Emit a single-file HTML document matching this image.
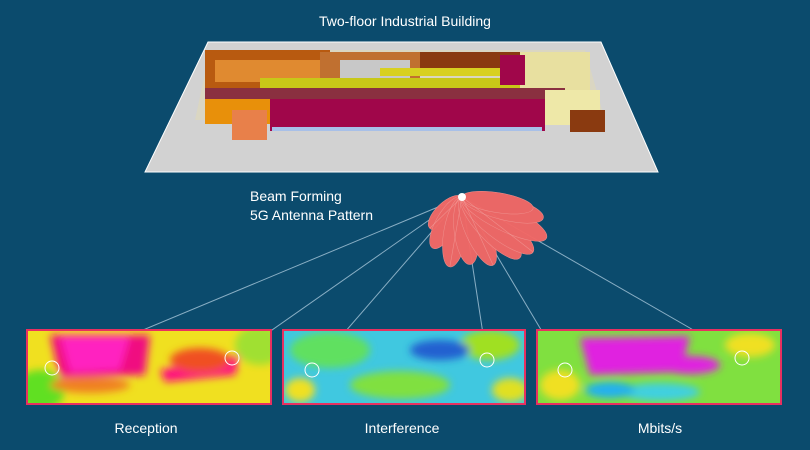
<!DOCTYPE html>
<html><head><meta charset="utf-8"><style>
html,body{margin:0;padding:0;background:#0b4b6d;width:810px;height:450px;overflow:hidden}
.t{font-family:"Liberation Sans",sans-serif;fill:#fff}
</style></head><body>
<svg width="810" height="450" viewBox="0 0 810 450" xmlns="http://www.w3.org/2000/svg">
<defs>
<filter id="b" x="-20%" y="-20%" width="140%" height="140%"><feGaussianBlur stdDeviation="4"/></filter>
<clipPath id="c1"><rect x="28" y="331" width="242" height="72"/></clipPath>
<clipPath id="c2"><rect x="284" y="331" width="240" height="72"/></clipPath>
<clipPath id="c3"><rect x="538" y="331" width="242" height="72"/></clipPath>
</defs>
<rect width="810" height="450" fill="#0b4b6d"/>
<text class="t" x="405" y="26" font-size="14" text-anchor="middle">Two-floor Industrial Building</text>
<polygon points="208,42 601,42 658,172 145,172" fill="#d2d2d2" stroke="#fff" stroke-width="1"/>
<polygon points="210,50 585,50 605,120 195,120" fill="#e0d8b8" opacity=".6"/>
<rect x="205" y="50" width="125" height="38" fill="#b85a10"/>
<rect x="215" y="60" width="105" height="22" fill="#e08a30"/>
<rect x="320" y="52" width="100" height="36" fill="#c07030"/>
<rect x="340" y="60" width="70" height="20" fill="#c8c8c8"/>
<rect x="420" y="52" width="100" height="20" fill="#8a3a10"/>
<rect x="260" y="78" width="280" height="10" fill="#c8c818"/>
<rect x="380" y="68" width="150" height="8" fill="#d8d020"/>
<rect x="520" y="52" width="70" height="40" fill="#e8e0a0"/>
<rect x="500" y="55" width="25" height="30" fill="#a0064a"/>
<rect x="205" y="88" width="360" height="11" fill="#8a3040"/>
<rect x="205" y="99" width="65" height="25" fill="#e8900a"/>
<rect x="232" y="110" width="35" height="30" fill="#e8804a"/>
<rect x="270" y="99" width="275" height="32" fill="#a0064a"/>
<rect x="272" y="127" width="270" height="4" fill="#a8c0e8"/>
<rect x="545" y="90" width="55" height="35" fill="#eee8a8"/>
<rect x="570" y="110" width="35" height="22" fill="#8a3a10"/>
<g stroke="#9fc0d4" stroke-width="1" opacity=".85">
<line x1="462" y1="197" x2="52" y2="368"/>
<line x1="462" y1="197" x2="232" y2="358"/>
<line x1="462" y1="197" x2="312" y2="370"/>
<line x1="462" y1="197" x2="487" y2="360"/>
<line x1="462" y1="197" x2="565" y2="370"/>
<line x1="462" y1="197" x2="742" y2="358"/>
</g>
<g fill="#f26866" stroke="#f7938f" stroke-width=".5" opacity=".97">
<ellipse cx="462" cy="219.5" rx="10" ry="22.5" transform="rotate(46 462 197)"/>
<ellipse cx="462" cy="226.5" rx="11" ry="29.5" transform="rotate(30 462 197)"/>
<ellipse cx="462" cy="232.5" rx="12" ry="35.5" transform="rotate(10 462 197)"/>
<ellipse cx="462" cy="231" rx="12" ry="34" transform="rotate(-7 462 197)"/>
<ellipse cx="462" cy="234.5" rx="12" ry="37.5" transform="rotate(-24.5 462 197)"/>
<ellipse cx="462" cy="239" rx="13" ry="42" transform="rotate(-43.5 462 197)"/>
<ellipse cx="462" cy="242" rx="13" ry="45" transform="rotate(-52 462 197)"/>
<ellipse cx="462" cy="244" rx="13" ry="47" transform="rotate(-64 462 197)"/>
<ellipse cx="462" cy="239" rx="12" ry="42" transform="rotate(-75.5 462 197)"/>
<ellipse cx="462" cy="233" rx="10" ry="36" transform="rotate(-81 462 197)"/>
</g>
<g stroke="#f3a8a4" stroke-width=".6" opacity=".6">
<line x1="462" y1="197" x2="430" y2="228"/>
<line x1="462" y1="197" x2="450" y2="266"/>
<line x1="462" y1="197" x2="493" y2="265"/>
<line x1="462" y1="197" x2="533" y2="252"/>
</g>
<circle cx="462" cy="197" r="4" fill="#fff"/>
<text class="t" x="250" y="201" font-size="14">Beam Forming</text>
<text class="t" x="250" y="220" font-size="14">5G Antenna Pattern</text>
<rect x="26" y="329" width="246" height="76" fill="#e83060"/>
<g clip-path="url(#c1)">
<rect x="28" y="331" width="242" height="72" fill="#f0e020"/>
<g filter="url(#b)">
<ellipse cx="40" cy="390" rx="25" ry="20" fill="#60e020"/>
<ellipse cx="260" cy="345" rx="25" ry="20" fill="#a0e030"/>
<polygon points="50,335 150,335 145,375 60,378" fill="#f01080"/>
<polygon points="60,336 130,336 120,370 70,372" fill="#ff20c0"/>
<polygon points="160,370 240,355 235,375 165,382" fill="#ff1080"/>
<ellipse cx="200" cy="360" rx="30" ry="12" fill="#f05020"/>
<ellipse cx="90" cy="385" rx="40" ry="8" fill="#f08020"/>
</g>
<g stroke="#fff" fill="none"><circle cx="52" cy="368" r="7"/><circle cx="232" cy="358" r="7"/></g>
</g>
<rect x="282" y="329" width="244" height="76" fill="#e83060"/>
<g clip-path="url(#c2)">
<rect x="284" y="331" width="240" height="72" fill="#40c8e0"/>
<g filter="url(#b)">
<ellipse cx="330" cy="350" rx="40" ry="18" fill="#60e060"/>
<ellipse cx="400" cy="385" rx="50" ry="14" fill="#80e040"/>
<ellipse cx="490" cy="345" rx="30" ry="15" fill="#a0e020"/>
<ellipse cx="440" cy="350" rx="30" ry="10" fill="#2060d0"/>
<ellipse cx="300" cy="390" rx="15" ry="12" fill="#f0e020"/>
<ellipse cx="510" cy="390" rx="18" ry="12" fill="#e0e020"/>
</g>
<g stroke="#fff" fill="none"><circle cx="312" cy="370" r="7"/><circle cx="487" cy="360" r="7"/></g>
</g>
<rect x="536" y="329" width="246" height="76" fill="#e83060"/>
<g clip-path="url(#c3)">
<rect x="538" y="331" width="242" height="72" fill="#80e040"/>
<g filter="url(#b)">
<polygon points="580,338 690,336 680,372 590,375" fill="#e020e0"/>
<ellipse cx="690" cy="365" rx="30" ry="9" fill="#e020e0"/>
<ellipse cx="560" cy="385" rx="20" ry="15" fill="#f0e020"/>
<ellipse cx="660" cy="392" rx="40" ry="9" fill="#40d0e0"/>
<ellipse cx="750" cy="345" rx="25" ry="12" fill="#f0e020"/>
<ellipse cx="610" cy="390" rx="25" ry="8" fill="#20b0f0"/>
</g>
<g stroke="#fff" fill="none"><circle cx="565" cy="370" r="7"/><circle cx="742" cy="358" r="7"/></g>
</g>
<text class="t" x="146" y="433" font-size="14" text-anchor="middle">Reception</text>
<text class="t" x="402" y="433" font-size="14" text-anchor="middle">Interference</text>
<text class="t" x="660" y="433" font-size="14" text-anchor="middle">Mbits/s</text>
</svg>
</body></html>
